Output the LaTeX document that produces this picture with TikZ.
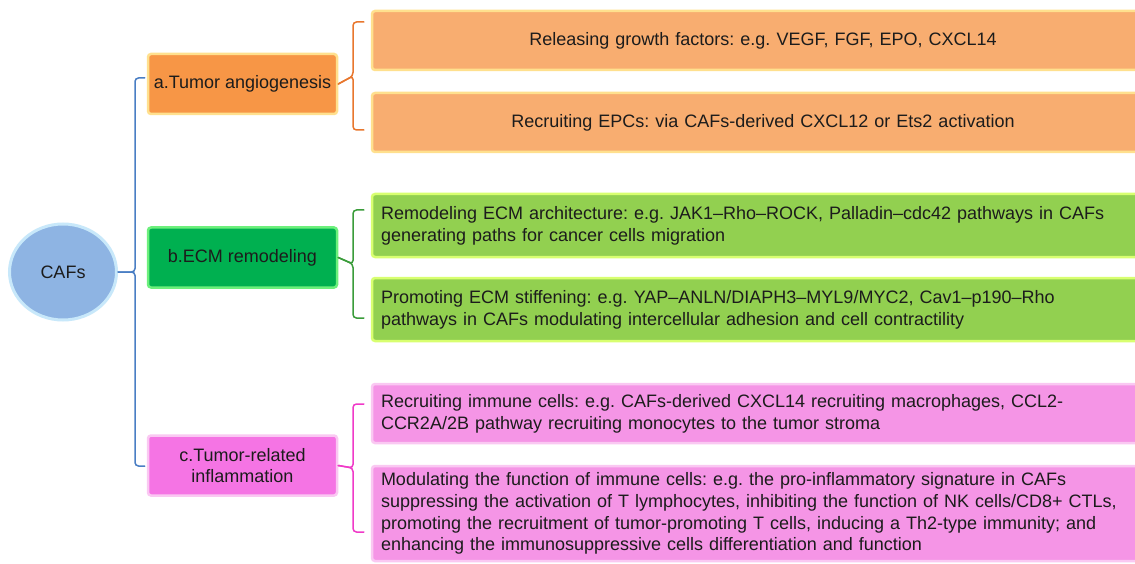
\documentclass[tikz,border=0pt]{standalone}
\usepackage{fontspec}
\setmainfont{Liberation Sans}
\usetikzlibrary{shapes.geometric}
\frenchspacing

% fills and glow edges
\definecolor{cafsfill}{HTML}{8EB4E3}
\definecolor{cafsedge}{HTML}{C8E8FA}
\definecolor{orgA}{HTML}{F79646}
\definecolor{orgB}{HTML}{F8AD70}
\definecolor{orgEdge}{HTML}{FFE08E}
\definecolor{grnA}{HTML}{00B050}
\definecolor{grnAedge}{HTML}{6CF07C}
\definecolor{grnB}{HTML}{92D050}
\definecolor{grnBedge}{HTML}{D8FF70}
\definecolor{pnkA}{HTML}{F574E4}
\definecolor{pnkB}{HTML}{F595E6}
\definecolor{pnkEdge}{HTML}{FAC8F2}
% connector colours
\definecolor{lnBlue}{HTML}{4A7EC4}
\definecolor{lnOrg}{HTML}{E8772E}
\definecolor{lnGrn}{HTML}{3A9C3A}
\definecolor{lnPnk}{HTML}{F03AC8}
\definecolor{ink}{HTML}{1C1C1C}

\tikzset{
  x=1pt, y=-1pt,
  txt/.style={font=\fontsize{18}{21.7}\selectfont, text=ink},
  catbox/.style={txt, rectangle, rounded corners=3pt, line width=2.5pt,
    minimum width=189pt, minimum height=60pt, inner sep=0pt, align=center},
  itembox/.style={txt, rectangle, rounded corners=3pt, line width=2.5pt,
    inner xsep=9pt, inner ysep=0pt, text width=764pt},
  centeritem/.style={itembox, align=center},
  leftitem/.style={itembox, align=left},
  brace/.style={line width=1.5pt, rounded corners=3.5pt, line cap=round}
}

\begin{document}
\begin{tikzpicture}
\useasboundingbox (0,0) rectangle (1135,564);
\fill[white] (0,0) rectangle (1135,564);

% root
\node[txt, ellipse, draw=cafsedge, line width=3pt, fill=cafsfill,
      minimum width=107pt, minimum height=96pt] (cafs) at (63,272) {CAFs};

% categories
\node[catbox, draw=orgEdge, fill=orgA] (ca) at (242.5,84) {a.Tumor angiogenesis};
\node[catbox, draw=grnAedge, fill=grnA] (cb) at (242.5,257.5) {b.ECM remodeling};
\node[catbox, draw=pnkEdge, fill=pnkA] (cc) at (242.5,465.5) {c.Tumor-related\\inflammation};

% items of a
\node[centeritem, draw=orgEdge, fill=orgB, minimum height=59pt] (a1) at (763,40.5)
  {Releasing growth factors: e.g.\ VEGF, FGF, EPO, CXCL14};
\node[centeritem, draw=orgEdge, fill=orgB, minimum height=59pt] (a2) at (763,122.5)
  {Recruiting EPCs: via CAFs-derived CXCL12 or Ets2 activation};

% items of b
\node[leftitem, draw=grnBedge, fill=grnB, minimum height=63pt] (b1) at (763,225.5)
  {Remodeling ECM architecture: e.g.\ JAK1–Rho–ROCK, Palladin–cdc42 pathways in CAFs\\
   generating paths for cancer cells migration};
\node[leftitem, draw=grnBedge, fill=grnB, minimum height=63pt] (b2) at (763,309.5)
  {Promoting ECM stiffening: e.g.\ YAP–ANLN/DIAPH3–MYL9/MYC2, Cav1–p190–Rho\\
   pathways in CAFs modulating intercellular adhesion and cell contractility};

% items of c
\node[leftitem, draw=pnkEdge, fill=pnkB, minimum height=59pt] (c1) at (763,413.5)
  {Recruiting immune cells: e.g.\ CAFs-derived CXCL14 recruiting macrophages, CCL2-\\
   CCR2A/2B pathway recruiting monocytes to the tumor stroma};
\node[leftitem, draw=pnkEdge, fill=pnkB, minimum height=95pt] (c2) at (763,513.5)
  {Modulating the function of immune cells: e.g.\ the pro-inflammatory signature in CAFs\\
   suppressing the activation of T lymphocytes, inhibiting the function of NK cells/CD8+ CTLs,\\
   promoting the recruitment of tumor-promoting T cells, inducing a Th2-type immunity; and\\
   enhancing the immunosuppressive cells differentiation and function};

% brace joints
\coordinate (rootTip) at (135,272);
\coordinate (aTip) at (353,76);
\coordinate (bTip) at (353,264);
\coordinate (cTip) at (353,468);

% root brace
\draw[brace, lnBlue] (ca.west |- 0,78) ++(-2,0) -| (rootTip) -- (cafs.east);
\draw[brace, lnBlue] (cc.west |- 0,466) ++(-2,0) -| (rootTip) -- (cafs.east);

% brace a
\draw[brace, lnOrg] (a1.west |- 0,22) ++(-7,0) -| (aTip) -- (ca.east);
\draw[brace, lnOrg] (a2.west |- 0,130) ++(-7,0) -| (aTip) -- (ca.east);

% brace b
\draw[brace, lnGrn] (b1.west |- 0,210) ++(-7,0) -| (bTip) -- (cb.east);
\draw[brace, lnGrn] (b2.west |- 0,318) ++(-7,0) -| (bTip) -- (cb.east);

% brace c
\draw[brace, lnPnk] (c1.west |- 0,404) ++(-7,0) -| (cTip) -- (cc.east);
\draw[brace, lnPnk] (c2.west |- 0,532) ++(-7,0) -| (cTip) -- (cc.east);
\end{tikzpicture}
\end{document}
